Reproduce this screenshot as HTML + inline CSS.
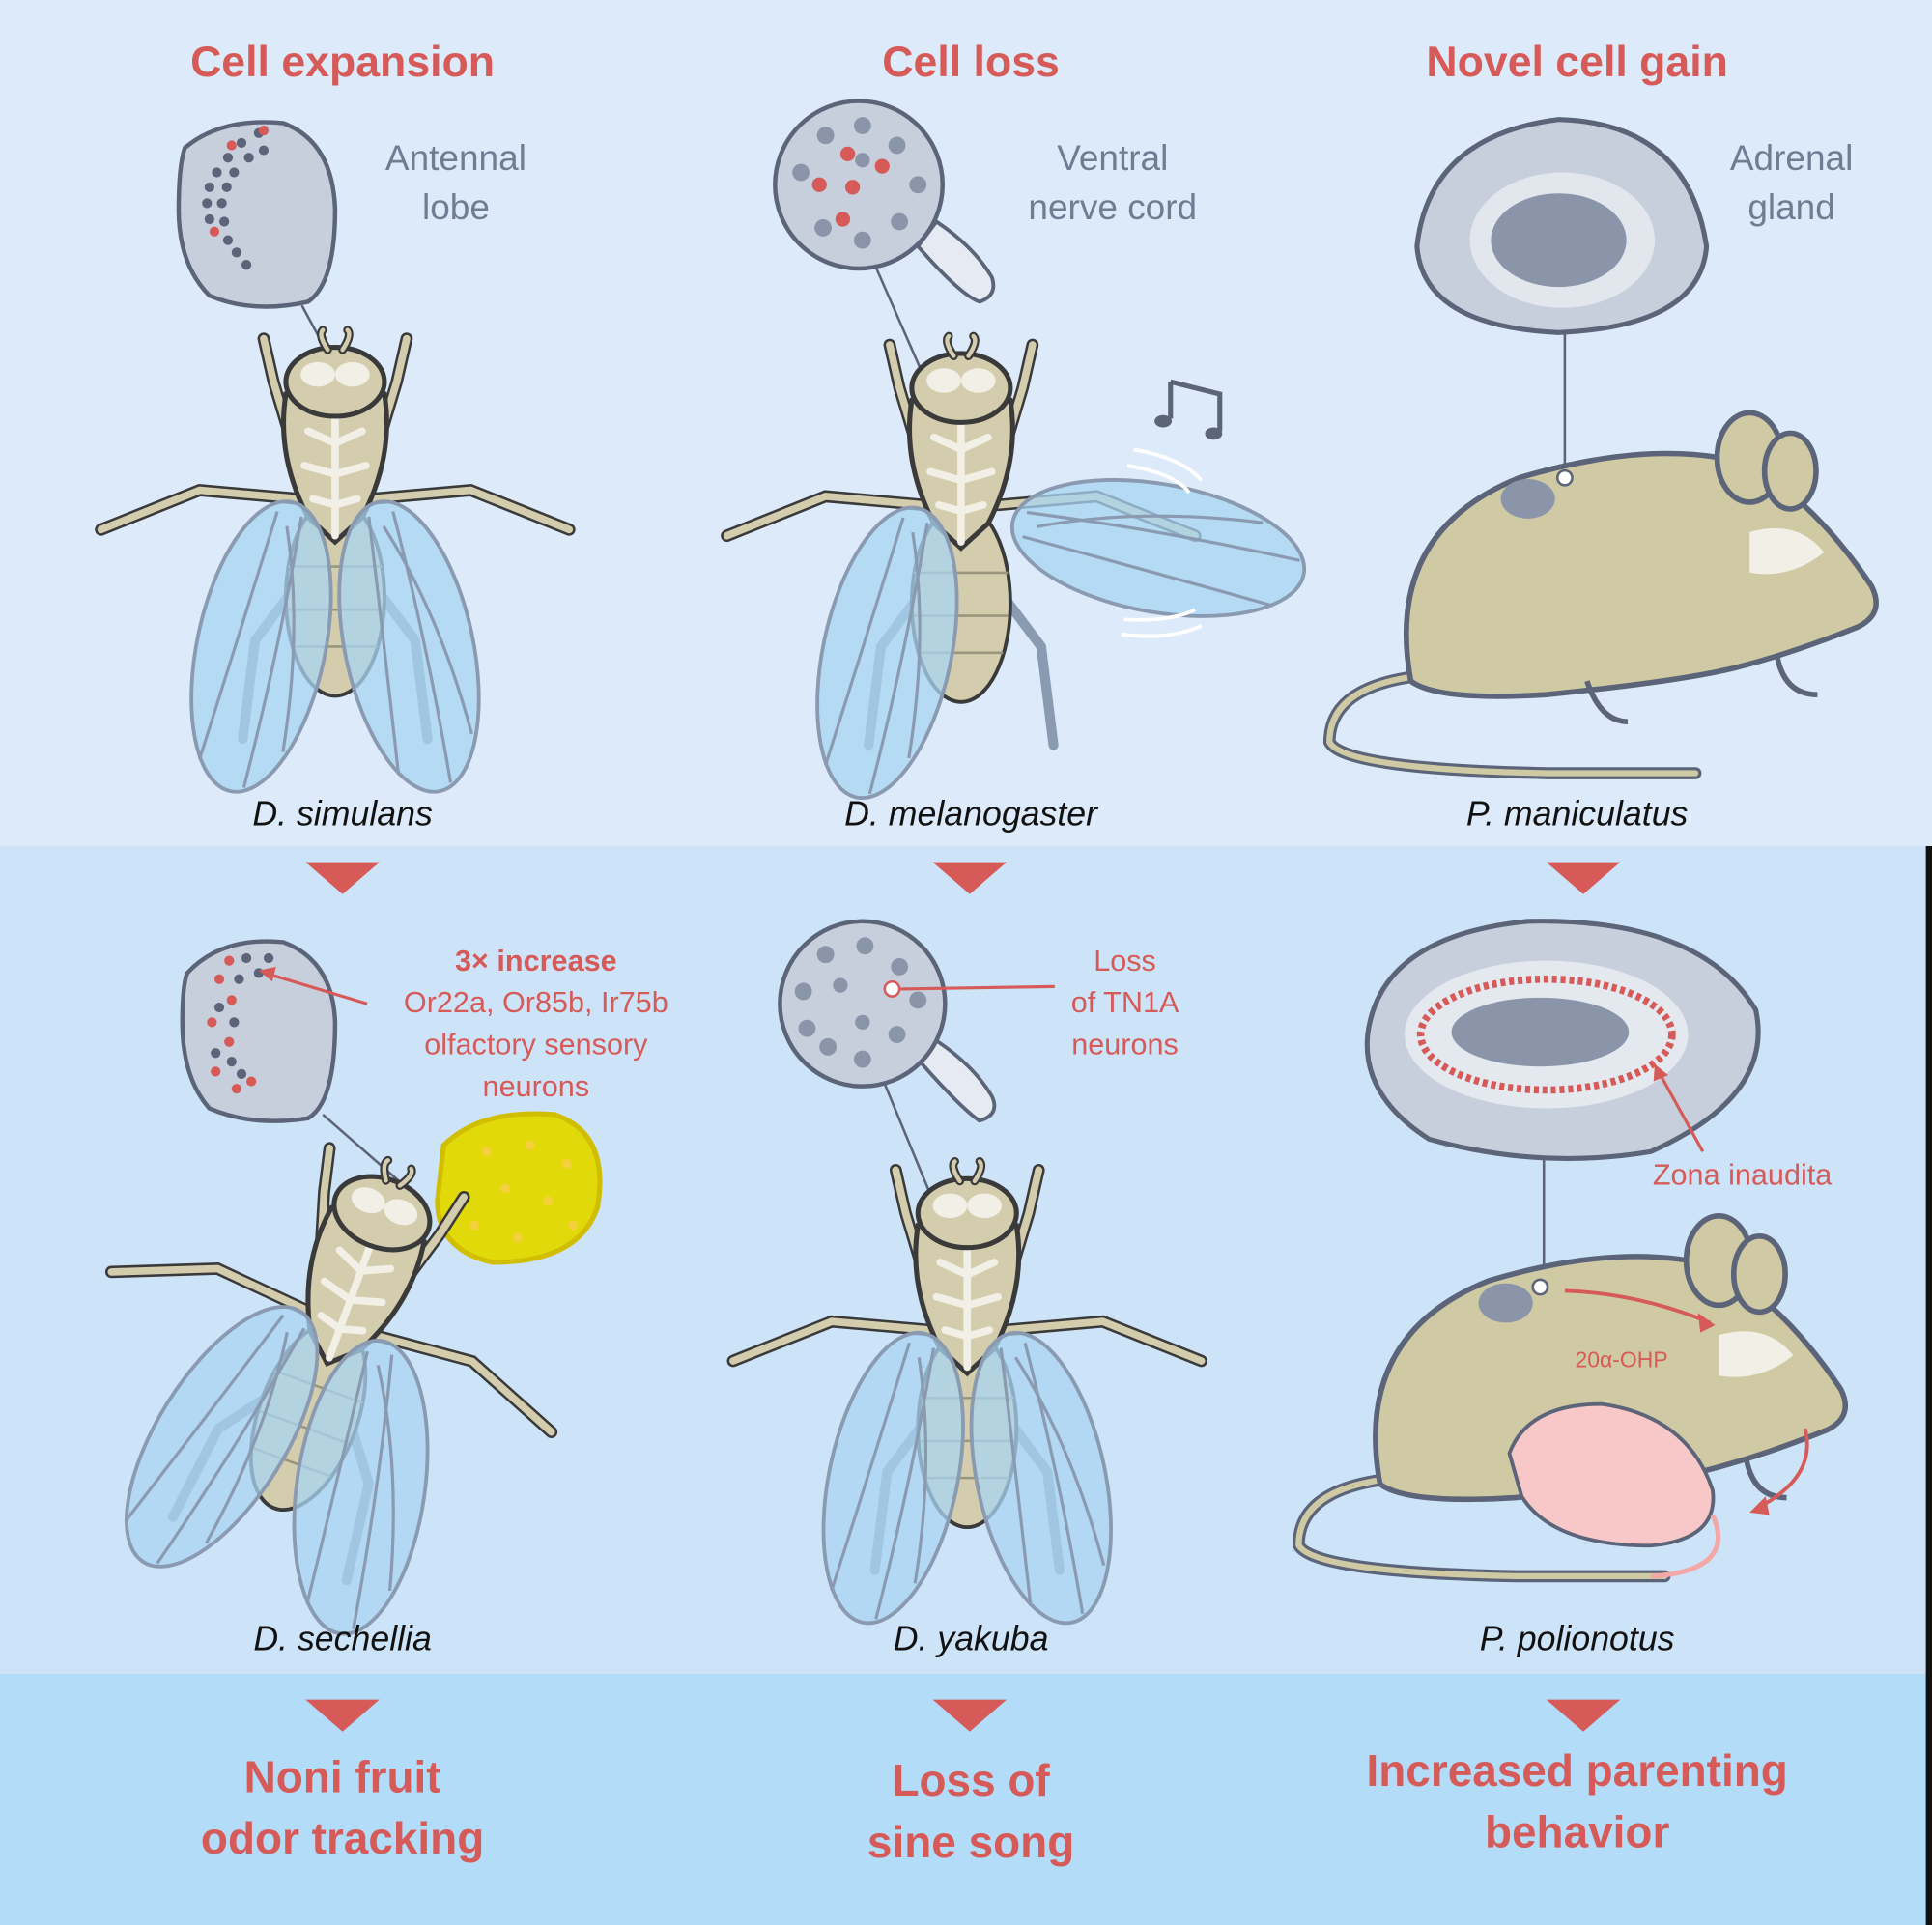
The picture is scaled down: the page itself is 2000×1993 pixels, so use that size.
<!DOCTYPE html>
<html><head><meta charset="utf-8">
<style>
html,body{margin:0;padding:0;}
svg{display:block;}
text{font-family:"Liberation Sans",sans-serif;}
</style></head>
<body>
<svg width="2000" height="1993" viewBox="0 0 1568 1563" preserveAspectRatio="none" xmlns="http://www.w3.org/2000/svg">
<defs>
  <g id="wing">
    <ellipse cx="0" cy="0" rx="52" ry="120" fill="#a8d4f2" fill-opacity="0.75" stroke="#8a9ab0" stroke-width="3"/>
    <path d="M-10,-110 Q-20,0 -30,100 M10,-110 Q15,0 10,115 M0,-100 Q30,-20 35,80" fill="none" stroke="#8a9ab0" stroke-width="2.5"/>
  </g>
  <g id="flybody">
    <path d="M-30,95 L-110,88 L-190,120" fill="none" stroke="#3a3a3a" stroke-width="10" stroke-linecap="round"/>
    <path d="M-30,95 L-110,88 L-190,120" fill="none" stroke="#d3cdae" stroke-width="6" stroke-linecap="round"/>
    <path d="M30,95 L110,88 L190,120" fill="none" stroke="#3a3a3a" stroke-width="10" stroke-linecap="round"/>
    <path d="M30,95 L110,88 L190,120" fill="none" stroke="#d3cdae" stroke-width="6" stroke-linecap="round"/>
    <path d="M-38,40 L-50,0 L-58,-35" fill="none" stroke="#3a3a3a" stroke-width="10" stroke-linecap="round"/>
    <path d="M-38,40 L-50,0 L-58,-35" fill="none" stroke="#d3cdae" stroke-width="6" stroke-linecap="round"/>
    <path d="M38,40 L50,0 L58,-35" fill="none" stroke="#3a3a3a" stroke-width="10" stroke-linecap="round"/>
    <path d="M38,40 L50,0 L58,-35" fill="none" stroke="#d3cdae" stroke-width="6" stroke-linecap="round"/>
    <path d="M-20,150 L-65,210 L-75,290" fill="none" stroke="#8a9ab0" stroke-width="8" stroke-linecap="round"/>
    <path d="M20,150 L65,210 L75,290" fill="none" stroke="#8a9ab0" stroke-width="8" stroke-linecap="round"/>
    <ellipse cx="0" cy="175" rx="40" ry="80" fill="#d3cdae" stroke="#3a3a3a" stroke-width="3"/>
    <path d="M-38,150 H38 M-38,185 H38 M-34,215 H34" stroke="#9a967e" stroke-width="2"/>
    <path d="M-40,10 Q-48,60 -22,110 L0,130 L22,110 Q48,60 40,10 Z" fill="#d3cdae" stroke="#3a3a3a" stroke-width="4"/>
    <path d="M0,20 L0,125 M0,50 L-22,40 M0,50 L22,40 M0,75 L-25,68 M0,75 L25,68 M0,100 L-18,95 M0,100 L18,95" stroke="#f2f0e6" stroke-width="6" stroke-linecap="round"/>
    <ellipse cx="0" cy="0" rx="40" ry="28" fill="#d3cdae" stroke="#3a3a3a" stroke-width="4"/>
    <ellipse cx="-14" cy="-6" rx="14" ry="10" fill="#f2f0e6"/>
    <ellipse cx="14" cy="-6" rx="14" ry="10" fill="#f2f0e6"/>
    <path d="M-6,-26 Q-14,-38 -10,-42 M6,-26 Q14,-38 10,-42" fill="none" stroke="#3a3a3a" stroke-width="7" stroke-linecap="round"/>
    <path d="M-6,-26 Q-14,-38 -10,-42 M6,-26 Q14,-38 10,-42" fill="none" stroke="#d3cdae" stroke-width="3.5" stroke-linecap="round"/>
  </g>
  <g id="fly">
    <use href="#flybody"/>
    <use href="#wing" transform="translate(-60,215) rotate(12)"/>
    <use href="#wing" transform="translate(60,215) rotate(-12)"/>
  </g>
  <g id="mouse">
    <path d="M-80,145 Q-160,150 -160,195 Q-150,215 0,218 L110,218" fill="none" stroke="#5b6478" stroke-width="9" stroke-linecap="round"/>
    <path d="M-80,145 Q-160,150 -160,195 Q-150,215 0,218 L110,218" fill="none" stroke="#cfc9a4" stroke-width="4.5" stroke-linecap="round"/>
    <path d="M-100,150 Q-120,40 -20,0 Q80,-30 150,-10 Q200,20 240,80 Q250,100 230,110 Q180,130 140,140 Q100,150 0,160 Q-80,165 -100,150 Z" fill="#cfc9a4" stroke="#5b6478" stroke-width="4"/>
    <ellipse cx="150" cy="-15" rx="24" ry="33" fill="#cfc9a4" stroke="#5b6478" stroke-width="4"/>
    <ellipse cx="180" cy="-5" rx="19" ry="28" fill="#cfc9a4" stroke="#5b6478" stroke-width="4"/>
    <path d="M150,40 Q185,30 205,55 Q180,75 150,70 Z" fill="#f2f0e6"/>
    <path d="M30,150 Q40,180 60,180 M170,130 Q175,160 200,160" fill="none" stroke="#5b6478" stroke-width="4"/>
  </g>
</defs>

<rect x="0" y="0" width="1568" height="687" fill="#dceaf9"/>
<rect x="0" y="687" width="1568" height="672" fill="#cde3f7"/>
<rect x="0" y="1359" width="1568" height="204" fill="#b3dcf8"/>
<rect x="1563" y="687" width="5" height="876" fill="#111"/>

<g fill="#d65a58" font-size="35" font-weight="bold" text-anchor="middle">
<text x="278" y="62">Cell expansion</text>
<text x="788" y="62">Cell loss</text>
<text x="1280" y="62">Novel cell gain</text>
</g>
<g fill="#6e7d92" font-size="29" text-anchor="middle">
<text x="370" y="138">Antennal</text><text x="370" y="178">lobe</text>
<text x="903" y="138">Ventral</text><text x="903" y="178">nerve cord</text>
<text x="1454" y="138">Adrenal</text><text x="1454" y="178">gland</text>
</g>

<line x1="245" y1="248" x2="265" y2="285" stroke="#5b6478" stroke-width="2"/>
<path d="M150,120 Q180,95 230,100 Q270,115 272,170 Q272,230 250,245 Q205,255 170,240 Q145,215 145,170 Q145,135 150,120Z" fill="#c8cfdc" stroke="#5b6478" stroke-width="3.5"/>
<g fill="#5b6478">
<circle cx="210" cy="108" r="4"/><circle cx="196" cy="116" r="4"/><circle cx="214" cy="122" r="4"/><circle cx="185" cy="128" r="4"/><circle cx="202" cy="128" r="4"/><circle cx="176" cy="140" r="4"/><circle cx="190" cy="140" r="4"/><circle cx="170" cy="152" r="4"/><circle cx="184" cy="152" r="4"/><circle cx="168" cy="165" r="4"/><circle cx="180" cy="165" r="4"/><circle cx="170" cy="178" r="4"/><circle cx="182" cy="180" r="4"/><circle cx="185" cy="195" r="4"/><circle cx="192" cy="205" r="4"/><circle cx="200" cy="215" r="4"/>
</g>
<g fill="#d65a58"><circle cx="214" cy="106" r="4"/><circle cx="188" cy="118" r="4"/><circle cx="174" cy="188" r="4"/></g>
<use href="#fly" transform="translate(272,310)"/>
<text x="278" y="670" font-size="28" font-style="italic" text-anchor="middle" fill="#111">D. simulans</text>

<path d="M745,200 Q780,240 795,245 Q810,240 805,225 Q790,200 760,180Z" fill="#e6eaf2" stroke="#5b6478" stroke-width="3"/>
<circle cx="697" cy="150" r="68" fill="#c8cfdc" stroke="#5b6478" stroke-width="3.5"/>
<g fill="#8a95aa">
<circle cx="670" cy="110" r="7"/><circle cx="700" cy="102" r="7"/><circle cx="728" cy="118" r="7"/><circle cx="650" cy="140" r="7"/><circle cx="745" cy="150" r="7"/><circle cx="668" cy="185" r="7"/><circle cx="700" cy="195" r="7"/><circle cx="730" cy="180" r="7"/><circle cx="700" cy="130" r="6"/>
</g>
<g fill="#d65a58"><circle cx="688" cy="125" r="6"/><circle cx="716" cy="135" r="6"/><circle cx="665" cy="150" r="6"/><circle cx="692" cy="152" r="6"/><circle cx="684" cy="178" r="6"/></g>
<line x1="710" y1="215" x2="778" y2="370" stroke="#5b6478" stroke-width="2"/>
<g transform="translate(780,315)">
  <use href="#flybody"/>
  <use href="#wing" transform="translate(-60,215) rotate(12)"/>
  <use href="#wing" transform="translate(160,130) rotate(-80)"/>
</g>
<path d="M950,310 L990,320 L990,350 M950,310 L950,340" fill="none" stroke="#5b6478" stroke-width="4"/>
<ellipse cx="944" cy="342" rx="7" ry="5" fill="#5b6478"/><ellipse cx="985" cy="352" rx="7" ry="5" fill="#5b6478"/>
<path d="M920,365 Q960,372 975,390 M915,378 Q955,385 965,400 M912,503 Q950,505 970,495 M910,515 Q950,520 975,508" fill="none" stroke="#fff" stroke-width="3"/>
<text x="788" y="670" font-size="28" font-style="italic" text-anchor="middle" fill="#111">D. melanogaster</text>

<path d="M1150,200 Q1160,110 1265,97 Q1370,100 1385,200 Q1380,265 1265,270 Q1155,265 1150,200Z" fill="#c8cfdc" stroke="#5b6478" stroke-width="4"/>
<ellipse cx="1268" cy="195" rx="75" ry="55" fill="#e9ecf2" opacity="0.8"/>
<ellipse cx="1265" cy="195" rx="55" ry="38" fill="#8a95aa"/>
<line x1="1270" y1="270" x2="1270" y2="385" stroke="#5b6478" stroke-width="2"/>
<g transform="translate(1255,388) scale(1.1)"><use href="#mouse"/></g>
<ellipse cx="1240" cy="405" rx="22" ry="16" fill="#8a95aa"/>
<circle cx="1270" cy="388" r="6" fill="#fff" stroke="#5b6478" stroke-width="2"/>
<text x="1280" y="670" font-size="28" font-style="italic" text-anchor="middle" fill="#111">P. maniculatus</text>

<g fill="#d65a58">
<polygon points="248,700 308,700 278,726"/><polygon points="757,700 817,700 787,726"/><polygon points="1255,700 1315,700 1285,726"/>
<polygon points="248,1380 308,1380 278,1406"/><polygon points="757,1380 817,1380 787,1406"/><polygon points="1255,1380 1315,1380 1285,1406"/>
</g>

<path d="M152,790 Q180,760 230,765 Q270,780 272,830 Q272,895 250,908 Q205,915 170,900 Q148,875 148,830 Q148,800 152,790Z" fill="#c8cfdc" stroke="#5b6478" stroke-width="3.5"/>
<g fill="#5b6478"><circle cx="200" cy="778" r="4"/><circle cx="218" cy="778" r="4"/><circle cx="210" cy="790" r="4"/><circle cx="194" cy="795" r="4"/><circle cx="178" cy="818" r="4"/><circle cx="190" cy="830" r="4"/><circle cx="175" cy="855" r="4"/><circle cx="188" cy="862" r="4"/><circle cx="196" cy="872" r="4"/></g>
<g fill="#d65a58"><circle cx="186" cy="780" r="4"/><circle cx="178" cy="795" r="4"/><circle cx="188" cy="812" r="4"/><circle cx="172" cy="830" r="4"/><circle cx="186" cy="846" r="4"/><circle cx="175" cy="870" r="4"/><circle cx="192" cy="884" r="4"/><circle cx="204" cy="878" r="4"/></g>
<line x1="215" y1="790" x2="298" y2="815" stroke="#d65a58" stroke-width="2.5"/>
<polygon points="210,788 224,785 221,797" fill="#d65a58"/>
<line x1="262" y1="905" x2="325" y2="960" stroke="#5b6478" stroke-width="2"/>
<g fill="#d65a58" font-size="24" text-anchor="middle">
<text x="435" y="788" font-weight="bold">3× increase</text>
<text x="435" y="822">Or22a, Or85b, Ir75b</text>
<text x="435" y="856">olfactory sensory</text>
<text x="435" y="890">neurons</text>
</g>
<path d="M360,930 Q390,900 450,905 Q495,920 485,980 Q470,1025 400,1025 Q355,1015 355,975 Z" fill="#e2d90a" stroke="#d1be00" stroke-width="4"/>
<g fill="#f4d03a"><circle cx="395" cy="935" r="4"/><circle cx="430" cy="930" r="4"/><circle cx="460" cy="945" r="4"/><circle cx="410" cy="965" r="4"/><circle cx="445" cy="975" r="4"/><circle cx="385" cy="995" r="4"/><circle cx="420" cy="1005" r="4"/><circle cx="465" cy="995" r="4"/></g>
<g transform="translate(310,985) rotate(20)"><use href="#fly"/></g>
<text x="278" y="1340" font-size="28" font-style="italic" text-anchor="middle" fill="#111">D. sechellia</text>

<path d="M745,860 Q780,900 795,910 Q812,905 805,890 Q790,865 760,845Z" fill="#e6eaf2" stroke="#5b6478" stroke-width="3"/>
<circle cx="700" cy="815" r="67" fill="#c8cfdc" stroke="#5b6478" stroke-width="3.5"/>
<g fill="#8a95aa"><circle cx="670" cy="775" r="7"/><circle cx="702" cy="768" r="7"/><circle cx="730" cy="785" r="7"/><circle cx="652" cy="805" r="7"/><circle cx="682" cy="800" r="6"/><circle cx="745" cy="812" r="7"/><circle cx="655" cy="835" r="7"/><circle cx="672" cy="850" r="7"/><circle cx="700" cy="860" r="7"/><circle cx="728" cy="840" r="7"/><circle cx="700" cy="830" r="6"/></g>
<circle cx="724" cy="803" r="6" fill="#fff" stroke="#d65a58" stroke-width="2"/>
<line x1="730" y1="803" x2="856" y2="801" stroke="#d65a58" stroke-width="2.5"/>
<g fill="#d65a58" font-size="24" text-anchor="middle">
<text x="913" y="788">Loss</text><text x="913" y="822">of TN1A</text><text x="913" y="856">neurons</text>
</g>
<line x1="718" y1="880" x2="780" y2="1030" stroke="#5b6478" stroke-width="2"/>
<use href="#fly" transform="translate(785,985)"/>
<text x="788" y="1340" font-size="28" font-style="italic" text-anchor="middle" fill="#111">D. yakuba</text>

<path d="M1110,840 Q1120,760 1240,748 Q1380,745 1425,820 Q1440,890 1340,935 Q1250,950 1160,925 Q1105,890 1110,840Z" fill="#c8cfdc" stroke="#5b6478" stroke-width="4"/>
<ellipse cx="1255" cy="840" rx="115" ry="60" fill="#e9ecf2" opacity="0.85"/>
<ellipse cx="1255" cy="840" rx="102" ry="45" fill="none" stroke="#d65a58" stroke-width="6" stroke-dasharray="4 3"/>
<ellipse cx="1250" cy="838" rx="72" ry="28" fill="#8a95aa"/>
<line x1="1345" y1="868" x2="1382" y2="935" stroke="#d65a58" stroke-width="2.5"/>
<polygon points="1343,864 1354,873 1342,878" fill="#d65a58"/>
<text x="1414" y="962" font-size="24" text-anchor="middle" fill="#d65a58">Zona inaudita</text>
<line x1="1253" y1="942" x2="1253" y2="1042" stroke="#5b6478" stroke-width="2"/>
<g transform="translate(1230,1040) scale(1.1)"><use href="#mouse"/></g>
<ellipse cx="1222" cy="1058" rx="22" ry="16" fill="#8a95aa"/>
<circle cx="1250" cy="1045" r="6" fill="#fff" stroke="#5b6478" stroke-width="2"/>
<path d="M1270,1048 Q1330,1050 1388,1074" fill="none" stroke="#d65a58" stroke-width="3"/>
<polygon points="1392,1076 1378,1066 1380,1082" fill="#d65a58"/>
<text x="1316" y="1110" font-size="18" text-anchor="middle" fill="#d65a58">20α-OHP</text>
<path d="M1465,1160 Q1475,1200 1425,1225" fill="none" stroke="#d65a58" stroke-width="3"/>
<polygon points="1420,1228 1433,1215 1436,1230" fill="#d65a58"/>
<path d="M1225,1180 Q1240,1140 1300,1140 Q1370,1150 1390,1210 Q1395,1250 1340,1255 Q1260,1255 1235,1215 Z" fill="#f8c8c8" stroke="#5b6478" stroke-width="3"/>
<path d="M1390,1230 Q1410,1275 1340,1280" fill="none" stroke="#f3a7a7" stroke-width="4"/>
<text x="1280" y="1340" font-size="28" font-style="italic" text-anchor="middle" fill="#111">P. polionotus</text>

<g fill="#d65a58" font-size="36" font-weight="bold" text-anchor="middle">
<text x="278" y="1455">Noni fruit</text><text x="278" y="1505">odor tracking</text>
<text x="788" y="1458">Loss of</text><text x="788" y="1508">sine song</text>
<text x="1280" y="1450">Increased parenting</text><text x="1280" y="1500">behavior</text>
</g>
</svg>
</body></html>
